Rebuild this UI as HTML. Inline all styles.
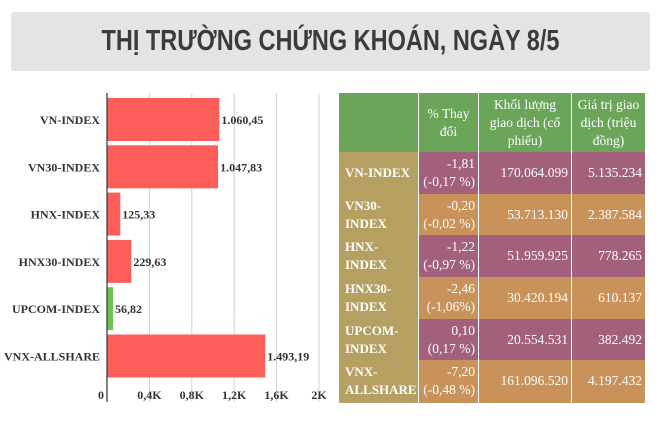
<!DOCTYPE html>
<html><head><meta charset="utf-8">
<style>
body{margin:0;width:660px;height:430px;background:#fff;position:relative;overflow:hidden;font-family:"Liberation Serif","DejaVu Serif",serif}
#title{position:absolute;left:11px;top:12px;width:639px;height:59px;background:#e4e4e4;border-radius:3px}
#title span{position:absolute;left:0;right:0;top:13px;text-align:center;font-family:"Liberation Sans",sans-serif;font-weight:bold;font-size:29px;color:#3b3b3b;transform:scaleX(0.81);white-space:nowrap}
#tbl{position:absolute;left:339px;top:93px;width:306px;height:309px}
.c{position:absolute;box-sizing:border-box;color:#fff;font-size:13.5px;line-height:18px;display:flex;align-items:center;padding:0 3px;border-left:1px solid #fff;white-space:nowrap}
.h{background:#6aa55a;justify-content:center;text-align:center}
.n{background:#b5a062;font-weight:bold;border-left:none;padding-left:6px;font-size:13px}
.p{background:#a3607a;justify-content:flex-end;text-align:right}
.o{background:#c8925a;justify-content:flex-end;text-align:right}
</style></head><body>
<div id="title"><span>THỊ TRƯỜNG CHỨNG KHOÁN, NGÀY 8/5</span></div>
<svg id="chart" width="330" height="430" style="position:absolute;left:0;top:0"></svg>
<div id="tbl"></div>
<script>
const categories=["VN-INDEX","VN30-INDEX","HNX-INDEX","HNX30-INDEX","UPCOM-INDEX","VNX-ALLSHARE"];
const values=[1060.45,1047.83,125.33,229.63,56.82,1493.19];
const valueLabels=["1.060,45","1.047,83","125,33","229,63","56,82","1.493,19"];
const barColors=["#fe5e5a","#fe5e5a","#fe5e5a","#fe5e5a","#6cc64f","#fe5e5a"];
const ticks=[0,400,800,1200,1600,2000];
const tickLabels=["0","0,4K","0,8K","1,2K","1,6K","2K"];
const x0=107,xMax=319,yTop=96,band=47.3;
const xs=v=>x0+v/2000*(xMax-x0);
const svg=document.getElementById('chart');const NS="http://www.w3.org/2000/svg";
function mk(t,a){const e=document.createElementNS(NS,t);for(const k in a)e.setAttribute(k,a[k]);svg.appendChild(e);return e;}
ticks.forEach((t,i)=>{
 if(i>0){const g=mk('line',{x1:xs(t),x2:xs(t),y1:93,y2:402,stroke:'#d0d0d0','stroke-width':1});
 
 }
 const l=mk('text',{x:xs(t)+(i==0?-6:0),y:399,'text-anchor':'middle','font-size':12,'font-weight':'bold',fill:'#333','font-family':'Liberation Serif,serif'});
 l.textContent=tickLabels[i];
 
 
});
categories.forEach((c,i)=>{
 const y=yTop+i*band+2;
 const r=mk('rect',{x:x0,y:y,width:xs(values[i])-x0,height:43,fill:barColors[i]});
 
 
 const t=mk('text',{x:100,y:y+26,'text-anchor':'end','font-size':12,'font-weight':'bold',fill:'#333','font-family':'Liberation Serif,serif'});
 t.textContent=c;
 
 
 const v=mk('text',{x:xs(values[i])+2,y:y+26,'font-size':12,'font-weight':'bold',fill:'#333','font-family':'Liberation Serif,serif'});
 v.textContent=valueLabels[i];
 
 
});
const ax=mk('line',{x1:x0,x2:x0,y1:93,y2:402,stroke:'#333','stroke-width':1.2});



const headers=["","% Thay<br>đổi","Khối lượng<br>giao dịch (cổ<br>phiếu)","Giá trị giao<br>dịch (triệu<br>đồng)"];
const rowNames=["VN-INDEX","VN30-<br>INDEX","HNX-<br>INDEX","HNX30-<br>INDEX","UPCOM-<br>INDEX","VNX-<br>ALLSHARE"];
const changes=["-1,81<br>(-0,17 %)","-0,20<br>(-0,02 %)","-1,22<br>(-0,97 %)","-2,46<br>(-1,06%)","0,10<br>(0,17 %)","-7,20<br>(-0,48 %)"];
const volumes=["170.064.099","53.713.130","51.959.925","30.420.194","20.554.531","161.096.520"];
const tradeValues=["5.135.234","2.387.584","778.265","610.137","382.492","4.197.432"];
const colX=[0,79,139,232,306],hh=59,rh=41.67;
const tbl=document.getElementById('tbl');
function cell(cls,x,y,w,h,html,name){const d=document.createElement('div');d.className='c '+cls;
 d.style.left=x+'px';d.style.top=y+'px';d.style.width=w+'px';d.style.height=h+'px';d.innerHTML=html;
 
 
 tbl.appendChild(d);}
headers.forEach((h,i)=>cell('h',colX[i],0,colX[i+1]-colX[i],hh,h,'header-cell'));
tbl.firstChild.style.borderLeft='none';
rowNames.forEach((n,r)=>{const y=hh+r*rh,cls=r%2?'o':'p';
 cell('n',0,y,79,rh+0.5,n,'row-name');
 cell(cls,79,y,60,rh+0.5,changes[r],'change-cell');
 cell(cls,139,y,93,rh+0.5,volumes[r],'volume-cell');
 cell(cls,232,y,74,rh+0.5,tradeValues[r],'value-cell');
});
</script>
</body></html>
